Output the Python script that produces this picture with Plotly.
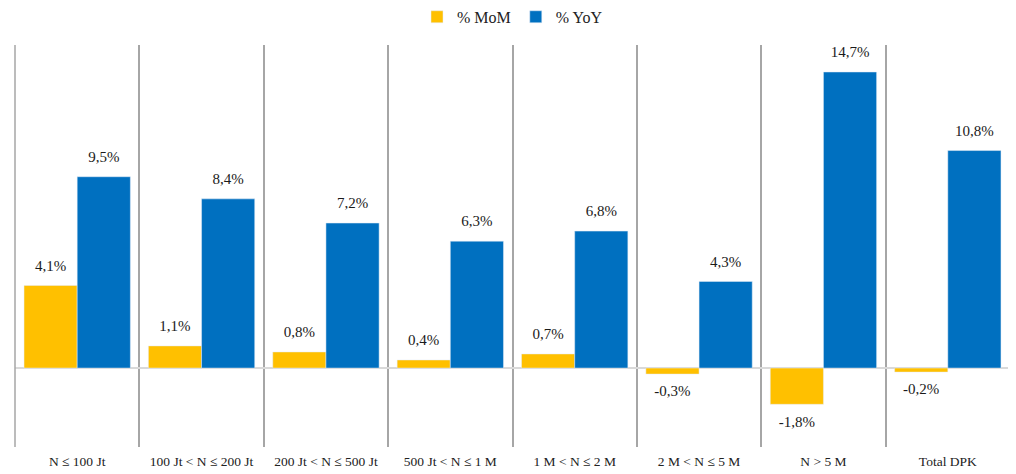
import plotly.graph_objects as go

categories = [
    "N ≤ 100 Jt", "100 Jt < N ≤ 200 Jt", "200 Jt < N ≤ 500 Jt", "500 Jt < N ≤ 1 M",
    "1 M < N ≤ 2 M", "2 M < N ≤ 5 M", "N > 5 M", "Total DPK",
]
mom = [4.1, 1.1, 0.8, 0.4, 0.7, -0.3, -1.8, -0.2]
yoy = [9.5, 8.4, 7.2, 6.3, 6.8, 4.3, 14.7, 10.8]


def pct(vals):
    return [f"{v:.1f}%".replace(".", ",") for v in vals]


def pos(vals):
    return ["top center" if v >= 0 else "bottom center" for v in vals]


FONT = "Liberation Serif"
LABEL = dict(size=15, color="#1a1a1a", family=FONT)

fig = go.Figure()
for name, vals, color, grp in [("% MoM", mom, "#FFC000", "a"), ("% YoY", yoy, "#0070C0", "b")]:
    fig.add_trace(go.Bar(
        name=name, x=categories, y=vals, marker_color=color, offsetgroup=grp,
    ))
    fig.add_trace(go.Scatter(
        x=categories, y=vals, mode="markers+text", offsetgroup=grp,
        marker=dict(size=16, opacity=0), text=pct(vals), textposition=pos(vals),
        textfont=LABEL, showlegend=False, hoverinfo="skip", cliponaxis=False,
    ))

# page body has an 8px margin, so the figure is sized/offset to fit the window
fig.update_layout(
    width=1008, height=466,
    margin=dict(l=7, r=6, t=37, b=27),
    paper_bgcolor="white", plot_bgcolor="white",
    barmode="group", scattermode="group", bargap=0.145, bargroupgap=0,
    font=dict(family=FONT, size=13, color="#222222"),
    legend=dict(orientation="h", x=0.5, xanchor="center", y=0.981, yanchor="middle",
                yref="container", font=dict(size=16)),
    showlegend=True,
)
fig.update_xaxes(
    automargin=False, showgrid=True, tickson="boundaries", gridcolor="#A6A6A6",
    gridwidth=1.5, ticks="", showline=False, tickfont=dict(size=13.5),
    ticklabelstandoff=4,
)
fig.update_yaxes(
    automargin=False, range=[-3.92, 16.04], showgrid=False, showticklabels=False,
    zeroline=True, zerolinecolor="#D9D9D9", zerolinewidth=2,
)
fig.add_shape(type="line", xref="paper", yref="paper", x0=0, x1=0, y0=0, y1=1,
              line=dict(color="#A6A6A6", width=1.5))
fig.add_shape(type="line", xref="paper", yref="paper", x0=1, x1=1, y0=0, y1=1,
              line=dict(color="#A6A6A6", width=1.5))

fig.write_html("out.html")
